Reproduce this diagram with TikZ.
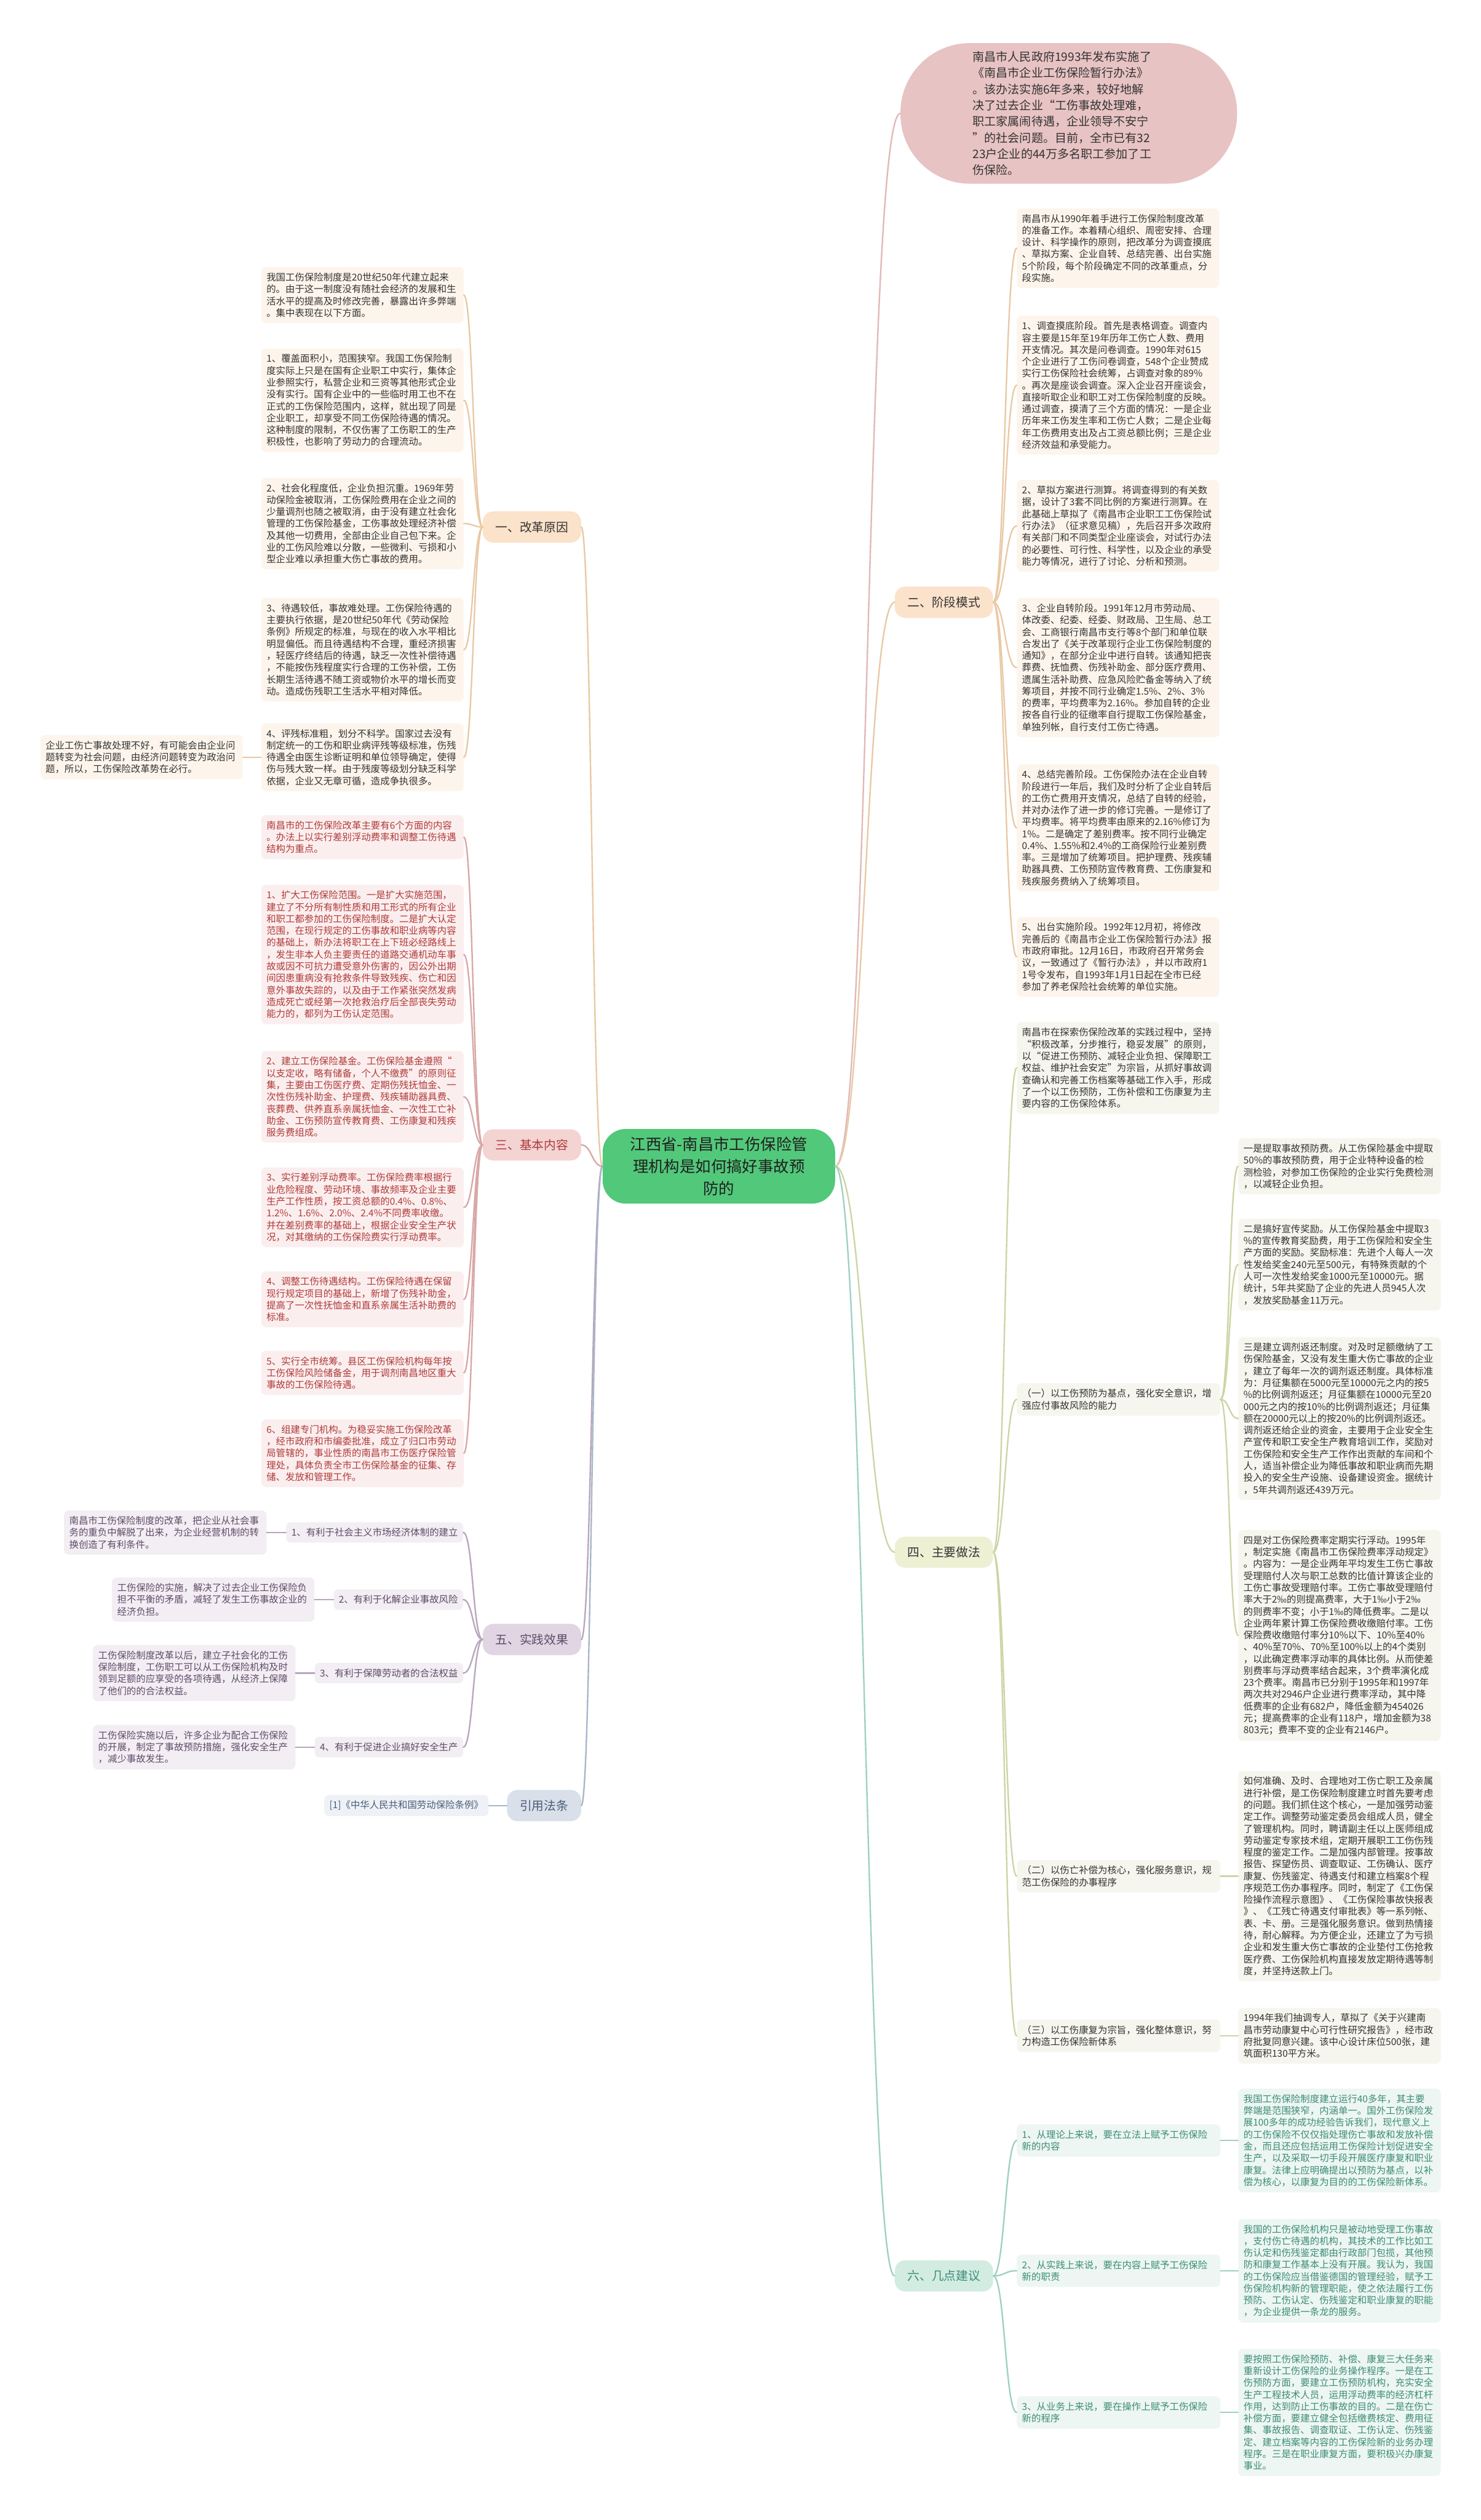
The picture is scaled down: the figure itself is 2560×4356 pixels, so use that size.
\documentclass[tikz,border=0pt]{standalone}
\usepackage{fontspec}
\setmainfont{Noto Sans CJK SC}
\newcommand\boxfont{\fontsize{16.4pt}{20.5pt}\selectfont}
\newcommand\labfont{\fontsize{21pt}{26pt}\selectfont}
\newcommand\cenfont{\fontsize{27pt}{38pt}\selectfont}
\newcommand\elfont{\fontsize{20.3pt}{28pt}\selectfont}
\definecolor{cgreen}{HTML}{52C87A}
\definecolor{epink}{HTML}{E8C3C3}
\definecolor{lnE}{HTML}{E3B8B8}
\definecolor{labA}{HTML}{FBE2CA}
\definecolor{boxA}{HTML}{FDF5EC}
\definecolor{lnA}{HTML}{E9C9A4}
\definecolor{labC}{HTML}{F4D3D3}
\definecolor{boxC}{HTML}{FBEEEE}
\definecolor{txtC}{HTML}{B03A3A}
\definecolor{lnC}{HTML}{D9A7A7}
\definecolor{labE}{HTML}{E1D5E3}
\definecolor{boxE}{HTML}{F2EEF3}
\definecolor{txtE}{HTML}{5F4B68}
\definecolor{lnP}{HTML}{B8A6BE}
\definecolor{labG}{HTML}{D9E0EA}
\definecolor{boxG}{HTML}{EEF2F6}
\definecolor{txtG}{HTML}{4A5C78}
\definecolor{lnG}{HTML}{A8B6C8}
\definecolor{labD}{HTML}{EEF0D4}
\definecolor{boxD}{HTML}{F6F6EE}
\definecolor{lnD}{HTML}{CCD5A5}
\definecolor{labF}{HTML}{D2ECE2}
\definecolor{boxF}{HTML}{EDF6F2}
\definecolor{txtF}{HTML}{3C8C77}
\definecolor{lnF}{HTML}{9FD0C1}
\definecolor{txtK}{HTML}{333333}
\begin{document}
\begin{tikzpicture}[x=1pt,y=-1pt,
  box/.style={rounded corners=8pt, align=left, text width=332pt, inner xsep=9pt, inner ysep=10pt, font=\boxfont},
  lbox/.style={rounded corners=8pt, align=left, inner xsep=9pt, inner ysep=10pt, font=\boxfont},
  lab/.style={rounded corners=18pt, font=\labfont, inner xsep=22pt, minimum height=54pt},
  ln/.style={line width=2.5pt, line cap=round}]
\useasboundingbox (0,0) rectangle (2560,4356);
\fill[white] (0,0) rectangle (2560,4356);

% centre and top
\node[fill=cgreen, rounded corners=40pt, text width=312pt, align=center, inner xsep=45pt, inner ysep=14pt, font=\cenfont, text=black!88] (C) at (1243,2016) {江西省-南昌市工伤保险管\\理机构是如何搞好事故预\\防的};
\node[fill=epink, rounded corners=120pt, text width=332pt, align=left, inner xsep=125pt, inner ysep=14pt, font=\elfont, text=txtK] (E) at (1848,196) {南昌市人民政府1993年发布实施了\\《南昌市企业工伤保险暂行办法》\\。该办法实施6年多来，较好地解\\决了过去企业“工伤事故处理难，\\职工家属闹待遇，企业领导不安宁\\”的社会问题。目前，全市已有32\\23户企业的44万多名职工参加了工\\伤保险。};

% branch labels
\node[lab, fill=labA, text=txtK, anchor=east] (ka) at (1005,911) {一、改革原因};
\node[lab, fill=labC, text=txtC, anchor=east] (kc) at (1005,1979) {三、基本内容};
\node[lab, fill=labE, text=txtE, anchor=east] (ke) at (1005,2834) {五、实践效果};
\node[lab, fill=labG, text=txtG, anchor=east] (kg) at (1005,3121) {引用法条};
\node[lab, fill=labA, text=txtK, anchor=west] (kb) at (1547,1041) {二、阶段模式};
\node[lab, fill=labD, text=txtK, anchor=west] (kd) at (1547,2683) {四、主要做法};
\node[lab, fill=labF, text=txtF, anchor=west] (kf) at (1547,3934) {六、几点建议};

% branch 一
\node[box, fill=boxA, text=txtK, anchor=east] (A0) at (802,510) {我国工伤保险制度是20世纪50年代建立起来\\的。由于这一制度没有随社会经济的发展和生\\活水平的提高及时修改完善，暴露出许多弊端\\。集中表现在以下方面。};
\node[box, fill=boxA, text=txtK, anchor=east] (A1) at (802,692) {1、覆盖面积小，范围狭窄。我国工伤保险制\\度实际上只是在国有企业职工中实行，集体企\\业参照实行，私营企业和三资等其他形式企业\\没有实行。国有企业中的一些临时用工也不在\\正式的工伤保险范围内，这样，就出现了同是\\企业职工，却享受不同工伤保险待遇的情况。\\这种制度的限制，不仅伤害了工伤职工的生产\\积极性，也影响了劳动力的合理流动。};
\node[box, fill=boxA, text=txtK, anchor=east] (A2) at (802,905) {2、社会化程度低，企业负担沉重。1969年劳\\动保险金被取消，工伤保险费用在企业之间的\\少量调剂也随之被取消，由于没有建立社会化\\管理的工伤保险基金，工伤事故处理经济补偿\\及其他一切费用，全部由企业自己包下来。企\\业的工伤风险难以分散，一些微利、亏损和小\\型企业难以承担重大伤亡事故的费用。};
\node[box, fill=boxA, text=txtK, anchor=east] (A3) at (802,1123) {3、待遇较低，事故难处理。工伤保险待遇的\\主要执行依据，是20世纪50年代《劳动保险\\条例》所规定的标准，与现在的收入水平相比\\明显偏低。而且待遇结构不合理，重经济损害\\，轻医疗终结后的待遇，缺乏一次性补偿待遇\\，不能按伤残程度实行合理的工伤补偿，工伤\\长期生活待遇不随工资或物价水平的增长而变\\动。造成伤残职工生活水平相对降低。};
\node[box, fill=boxA, text=txtK, anchor=east] (A4) at (802,1309) {4、评残标准粗，划分不科学。国家过去没有\\制定统一的工伤和职业病评残等级标准，伤残\\待遇全由医生诊断证明和单位领导确定，使得\\伤与残大致一样。由于残废等级划分缺乏科学\\依据，企业又无章可循，造成争执很多。};
\node[box, fill=boxA, text=txtK, anchor=east] (A5) at (420,1309) {企业工伤亡事故处理不好，有可能会由企业问\\题转变为社会问题，由经济问题转变为政治问\\题，所以，工伤保险改革势在必行。};

% branch 三
\node[box, fill=boxC, text=txtC, anchor=east] (C0) at (802,1447) {南昌市的工伤保险改革主要有6个方面的内容\\。办法上以实行差别浮动费率和调整工伤待遇\\结构为重点。};
\node[box, fill=boxC, text=txtC, anchor=east] (C1) at (802,1650) {1、扩大工伤保险范围。一是扩大实施范围，\\建立了不分所有制性质和用工形式的所有企业\\和职工都参加的工伤保险制度。二是扩大认定\\范围，在现行规定的工伤事故和职业病等内容\\的基础上，新办法将职工在上下班必经路线上\\，发生非本人负主要责任的道路交通机动车事\\故或因不可抗力遭受意外伤害的，因公外出期\\间因患重病没有抢救条件导致残疾、伤亡和因\\意外事故失踪的，以及由于工作紧张突然发病\\造成死亡或经第一次抢救治疗后全部丧失劳动\\能力的，都列为工伤认定范围。};
\node[box, fill=boxC, text=txtC, anchor=east] (C2) at (802,1896) {2、建立工伤保险基金。工伤保险基金遵照“\\以支定收，略有储备，个人不缴费”的原则征\\集，主要由工伤医疗费、定期伤残抚恤金、一\\次性伤残补助金、护理费、残疾辅助器具费、\\丧葬费、供养直系亲属抚恤金、一次性工亡补\\助金、工伤预防宣传教育费、工伤康复和残疾\\服务费组成。};
\node[box, fill=boxC, text=txtC, anchor=east] (C3) at (802,2087) {3、实行差别浮动费率。工伤保险费率根据行\\业危险程度、劳动环境、事故频率及企业主要\\生产工作性质，按工资总额的0.4\%、0.8\%、\\1.2\%、1.6\%、2.0\%、2.4\%不同费率收缴。\\并在差别费率的基础上，根据企业安全生产状\\况，对其缴纳的工伤保险费实行浮动费率。};
\node[box, fill=boxC, text=txtC, anchor=east] (C4) at (802,2246) {4、调整工伤待遇结构。工伤保险待遇在保留\\现行规定项目的基础上，新增了伤残补助金，\\提高了一次性抚恤金和直系亲属生活补助费的\\标准。};
\node[box, fill=boxC, text=txtC, anchor=east] (C5) at (802,2373) {5、实行全市统筹。县区工伤保险机构每年按\\工伤保险风险储备金，用于调剂南昌地区重大\\事故的工伤保险待遇。};
\node[box, fill=boxC, text=txtC, anchor=east] (C6) at (802,2512) {6、组建专门机构。为稳妥实施工伤保险改革\\，经市政府和市编委批准，成立了归口市劳动\\局管辖的，事业性质的南昌市工伤医疗保险管\\理处，具体负责全市工伤保险基金的征集、存\\储、发放和管理工作。};

% branch 五
\node[lbox, fill=boxE, text=txtE, anchor=east] (E1) at (801,2649) {1、有利于社会主义市场经济体制的建立};
\node[lbox, fill=boxE, text=txtE, anchor=east] (E2) at (801,2765) {2、有利于化解企业事故风险};
\node[lbox, fill=boxE, text=txtE, anchor=east] (E3) at (801,2892) {3、有利于保障劳动者的合法权益};
\node[lbox, fill=boxE, text=txtE, anchor=east] (E4) at (801,3020) {4、有利于促进企业搞好安全生产};
\node[box, fill=boxE, text=txtE, anchor=east] (E1c) at (461,2649) {南昌市工伤保险制度的改革，把企业从社会事\\务的重负中解脱了出来，为企业经营机制的转\\换创造了有利条件。};
\node[box, fill=boxE, text=txtE, anchor=east] (E2c) at (544,2765) {工伤保险的实施，解决了过去企业工伤保险负\\担不平衡的矛盾，减轻了发生工伤事故企业的\\经济负担。};
\node[box, fill=boxE, text=txtE, anchor=east] (E3c) at (511,2892) {工伤保险制度改革以后，建立子社会化的工伤\\保险制度，工伤职工可以从工伤保险机构及时\\领到足额的应享受的各项待遇，从经济上保障\\了他们的的合法权益。};
\node[box, fill=boxE, text=txtE, anchor=east] (E4c) at (511,3020) {工伤保险实施以后，许多企业为配合工伤保险\\的开展，制定了事故预防措施，强化安全生产\\，减少事故发生。};

% 引用法条
\node[lbox, fill=boxG, text=txtG, anchor=east] (G1) at (845,3121) {[1]《中华人民共和国劳动保险条例》};

% branch 二
\node[box, fill=boxA, text=txtK, anchor=west] (B0) at (1758,429) {南昌市从1990年着手进行工伤保险制度改革\\的准备工作。本着精心组织、周密安排、合理\\设计、科学操作的原则，把改革分为调查摸底\\、草拟方案、企业自转、总结完善、出台实施\\5个阶段，每个阶段确定不同的改革重点，分\\段实施。};
\node[box, fill=boxA, text=txtK, anchor=west] (B1) at (1758,666) {1、调查摸底阶段。首先是表格调查。调查内\\容主要是15年至19年历年工伤亡人数、费用\\开支情况。其次是问卷调查。1990年对615\\个企业进行了工伤问卷调查，548个企业赞成\\实行工伤保险社会统筹，占调查对象的89\%\\。再次是座谈会调查。深入企业召开座谈会，\\直接听取企业和职工对工伤保险制度的反映。\\通过调查，摸清了三个方面的情况：一是企业\\历年来工伤发生率和工伤亡人数；二是企业每\\年工伤费用支出及占工资总额比例；三是企业\\经济效益和承受能力。};
\node[box, fill=boxA, text=txtK, anchor=west] (B2) at (1758,909) {2、草拟方案进行测算。将调查得到的有关数\\据，设计了3套不同比例的方案进行测算。在\\此基础上草拟了《南昌市企业职工工伤保险试\\行办法》（征求意见稿），先后召开多次政府\\有关部门和不同类型企业座谈会，对试行办法\\的必要性、可行性、科学性，以及企业的承受\\能力等情况，进行了讨论、分析和预测。};
\node[box, fill=boxA, text=txtK, anchor=west] (B3) at (1758,1154) {3、企业自转阶段。1991年12月市劳动局、\\体改委、纪委、经委、财政局、卫生局、总工\\会、工商银行南昌市支行等8个部门和单位联\\合发出了《关于改革现行企业工伤保险制度的\\通知》，在部分企业中进行自转。该通知把丧\\葬费、抚恤费、伤残补助金、部分医疗费用、\\遗属生活补助费、应急风险贮备金等纳入了统\\筹项目，并按不同行业确定1.5\%、2\%、3\%\\的费率，平均费率为2.16\%。参加自转的企业\\按各自行业的征缴率自行提取工伤保险基金，\\单独列帐，自行支付工伤亡待遇。};
\node[box, fill=boxA, text=txtK, anchor=west] (B4) at (1758,1431) {4、总结完善阶段。工伤保险办法在企业自转\\阶段进行一年后，我们及时分析了企业自转后\\的工伤亡费用开支情况，总结了自转的经验，\\并对办法作了进一步的修订完善。一是修订了\\平均费率。将平均费率由原来的2.16\%修订为\\1\%。二是确定了差别费率。按不同行业确定\\0.4\%、1.55\%和2.4\%的工商保险行业差别费\\率。三是增加了统筹项目。把护理费、残疾辅\\助器具费、工伤预防宣传教育费、工伤康复和\\残疾服务费纳入了统筹项目。};
\node[box, fill=boxA, text=txtK, anchor=west] (B5) at (1758,1654) {5、出台实施阶段。1992年12月初，将修改\\完善后的《南昌市企业工伤保险暂行办法》报\\市政府审批。12月16日，市政府召开常务会\\议，一致通过了《暂行办法》，并以市政府1\\1号令发布，自1993年1月1日起在全市已经\\参加了养老保险社会统筹的单位实施。};

% branch 四
\node[box, fill=boxD, text=txtK, anchor=west] (D0) at (1758,1846) {南昌市在探索伤保险改革的实践过程中，坚持\\“积极改革，分步推行，稳妥发展”的原则，\\以“促进工伤预防、减轻企业负担、保障职工\\权益、维护社会安定”为宗旨，从抓好事故调\\查确认和完善工伤档案等基础工作入手，形成\\了一个以工伤预防，工伤补偿和工伤康复为主\\要内容的工伤保险体系。};
\node[box, fill=boxD, text=txtK, anchor=west, text width=334pt] (D1) at (1758,2419) {（一）以工伤预防为基点，强化安全意识，增\\强应付事故风险的能力};
\node[box, fill=boxD, text=txtK, anchor=west, text width=334pt] (D2) at (1758,3243) {（二）以伤亡补偿为核心，强化服务意识，规\\范工伤保险的办事程序};
\node[box, fill=boxD, text=txtK, anchor=west, text width=334pt] (D3) at (1758,3519) {（三）以工伤康复为宗旨，强化整体意识，努\\力构造工伤保险新体系};
\node[box, fill=boxD, text=txtK, anchor=west] (H1) at (2141,2016) {一是提取事故预防费。从工伤保险基金中提取\\50\%的事故预防费，用于企业特种设备的检\\测检验，对参加工伤保险的企业实行免费检测\\，以减轻企业负担。};
\node[box, fill=boxD, text=txtK, anchor=west] (H2) at (2141,2186) {二是搞好宣传奖励。从工伤保险基金中提取3\\\%的宣传教育奖励费，用于工伤保险和安全生\\产方面的奖励。奖励标准：先进个人每人一次\\性发给奖金240元至500元，有特殊贡献的个\\人可一次性发给奖金1000元至10000元。据\\统计，5年共奖励了企业的先进人员945人次\\，发放奖励基金11万元。};
\node[box, fill=boxD, text=txtK, anchor=west] (H3) at (2141,2452) {三是建立调剂返还制度。对及时足额缴纳了工\\伤保险基金，又没有发生重大伤亡事故的企业\\，建立了每年一次的调剂返还制度。具体标准\\为：月征集额在5000元至10000元之内的按5\\\%的比例调剂返还；月征集额在10000元至20\\000元之内的按10\%的比例调剂返还；月征集\\额在20000元以上的按20\%的比例调剂返还。\\调剂返还给企业的资金，主要用于企业安全生\\产宣传和职工安全生产教育培训工作，奖励对\\工伤保险和安全生产工作作出贡献的车间和个\\人，适当补偿企业为降低事故和职业病而先期\\投入的安全生产设施、设备建设资金。据统计\\，5年共调剂返还439万元。};
\node[box, fill=boxD, text=txtK, anchor=west] (H4) at (2141,2827) {四是对工伤保险费率定期实行浮动。1995年\\，制定实施《南昌市工伤保险费率浮动规定》\\。内容为：一是企业两年平均发生工伤亡事故\\受理赔付人次与职工总数的比值计算该企业的\\工伤亡事故受理赔付率。工伤亡事故受理赔付\\率大于2‰的则提高费率，大于1‰小于2‰\\的则费率不变；小于1‰的降低费率。二是以\\企业两年累计算工伤保险费收缴赔付率。工伤\\保险费收缴赔付率分10\%以下、10\%至40\%\\、40\%至70\%、70\%至100\%以上的4个类别\\，以此确定费率浮动率的具体比例。从而使差\\别费率与浮动费率结合起来，3个费率演化成\\23个费率。南昌市已分别于1995年和1997年\\两次共对2946户企业进行费率浮动，其中降\\低费率的企业有682户，降低金额为454026\\元；提高费率的企业有118户，增加金额为38\\803元；费率不变的企业有2146户。};
\node[box, fill=boxD, text=txtK, anchor=west] (H5) at (2141,3243) {如何准确、及时、合理地对工伤亡职工及亲属\\进行补偿，是工伤保险制度建立时首先要考虑\\的问题。我们抓住这个核心，一是加强劳动鉴\\定工作。调整劳动鉴定委员会组成人员，健全\\了管理机构。同时，聘请副主任以上医师组成\\劳动鉴定专家技术组，定期开展职工工伤伤残\\程度的鉴定工作。二是加强内部管理。按事故\\报告、探望伤员、调查取证、工伤确认、医疗\\康复、伤残鉴定、待遇支付和建立档案8个程\\序规范工伤办事程序。同时，制定了《工伤保\\险操作流程示意图》、《工伤保险事故快报表\\》、《工残亡待遇支付审批表》等一系列帐、\\表、卡、册。三是强化服务意识。做到热情接\\待，耐心解释。为方便企业，还建立了为亏损\\企业和发生重大伤亡事故的企业垫付工伤抢救\\医疗费、工伤保险机构直接发放定期待遇等制\\度，并坚持送款上门。};
\node[box, fill=boxD, text=txtK, anchor=west] (H6) at (2141,3519) {1994年我们抽调专人，草拟了《关于兴建南\\昌市劳动康复中心可行性研究报告》，经市政\\府批复同意兴建。该中心设计床位500张，建\\筑面积130平方米。};

% branch 六
\node[box, fill=boxF, text=txtF, anchor=west, text width=334pt] (F1) at (1758,3700) {1、从理论上来说，要在立法上赋予工伤保险\\新的内容};
\node[box, fill=boxF, text=txtF, anchor=west, text width=334pt] (F2) at (1758,3925) {2、从实践上来说，要在内容上赋予工伤保险\\新的职责};
\node[box, fill=boxF, text=txtF, anchor=west, text width=334pt] (F3) at (1758,4170) {3、从业务上来说，要在操作上赋予工伤保险\\新的程序};
\node[box, fill=boxF, text=txtF, anchor=west] (F1c) at (2141,3700) {我国工伤保险制度建立运行40多年，其主要\\弊端是范围狭窄，内涵单一。国外工伤保险发\\展100多年的成功经验告诉我们，现代意义上\\的工伤保险不仅仅指处理伤亡事故和发放补偿\\金，而且还应包括运用工伤保险计划促进安全\\生产，以及采取一切手段开展医疗康复和职业\\康复。法律上应明确提出以预防为基点，以补\\偿为核心，以康复为目的的工伤保险新体系。};
\node[box, fill=boxF, text=txtF, anchor=west] (F2c) at (2141,3925) {我国的工伤保险机构只是被动地受理工伤事故\\，支付伤亡待遇的机构，其技术的工作比如工\\伤认定和伤残鉴定都由行政部门包揽，其他预\\防和康复工作基本上没有开展。我认为，我国\\的工伤保险应当借鉴德国的管理经验，赋予工\\伤保险机构新的管理职能，使之依法履行工伤\\预防、工伤认定、伤残鉴定和职业康复的职能\\，为企业提供一条龙的服务。};
\node[box, fill=boxF, text=txtF, anchor=west] (F3c) at (2141,4170) {要按照工伤保险预防、补偿、康复三大任务来\\重新设计工伤保险的业务操作程序。一是在工\\伤预防方面，要建立工伤预防机构，充实安全\\生产工程技术人员，运用浮动费率的经济杠杆\\作用，达到防止工伤事故的目的。二是在伤亡\\补偿方面，要建立健全包括缴费核定、费用征\\集、事故报告、调查取证、工伤认定、伤残鉴\\定、建立档案等内容的工伤保险新的业务办理\\程序。三是在职业康复方面，要积极兴办康复\\事业。};

% connectors: centre to branches
\draw[ln, lnE] (C.east) .. controls +(60,0) and +(-60,0) .. (E.west);
\draw[ln, lnA] (C.east) .. controls +(50,0) and +(-50,0) .. (kb.west);
\draw[ln, lnD] (C.east) .. controls +(50,0) and +(-50,0) .. (kd.west);
\draw[ln, lnF] (C.east) .. controls +(50,0) and +(-50,0) .. (kf.west);
\draw[ln, lnA] (C.west) .. controls +(-18,0) and +(18,0) .. (ka.east);
\draw[ln, lnC] (C.west) .. controls +(-18,0) and +(18,0) .. (kc.east);
\draw[ln, lnP] (C.west) .. controls +(-18,0) and +(18,0) .. (ke.east);
\draw[ln, lnG] (C.west) .. controls +(-18,0) and +(18,0) .. (kg.east);

% branch to children
\foreach \n in {A0,A1,A2,A3,A4} \draw[ln, lnA] (ka.west) .. controls +(-16,0) and +(16,0) .. (\n.east);
\draw[ln, lnA] (A4.west) -- (A5.east);
\foreach \n in {C0,C1,C2,C3,C4,C5,C6} \draw[ln, lnC] (kc.west) .. controls +(-16,0) and +(16,0) .. (\n.east);
\foreach \n in {E1,E2,E3,E4} \draw[ln, lnP] (ke.west) .. controls +(-17,0) and +(17,0) .. (\n.east);
\draw[ln, lnP] (E1.west) -- (E1c.east);
\draw[ln, lnP] (E2.west) -- (E2c.east);
\draw[ln, lnP] (E3.west) -- (E3c.east);
\draw[ln, lnP] (E4.west) -- (E4c.east);
\draw[ln, lnG] (kg.west) -- (G1.east);
\foreach \n in {B0,B1,B2,B3,B4,B5} \draw[ln, lnA] (kb.east) .. controls +(20,0) and +(-20,0) .. (\n.west);
\foreach \n in {D0,D1,D2,D3} \draw[ln, lnD] (kd.east) .. controls +(20,0) and +(-20,0) .. (\n.west);
\foreach \n in {H1,H2,H3,H4} \draw[ln, lnD] (D1.east) .. controls +(16,0) and +(-16,0) .. (\n.west);
\draw[ln, lnD] (D2.east) -- (H5.west);
\draw[ln, lnD] (D3.east) -- (H6.west);
\foreach \n in {F1,F2,F3} \draw[ln, lnF] (kf.east) .. controls +(20,0) and +(-20,0) .. (\n.west);
\draw[ln, lnF] (F1.east) -- (F1c.west);
\draw[ln, lnF] (F2.east) -- (F2c.west);
\draw[ln, lnF] (F3.east) -- (F3c.west);
\end{tikzpicture}
\end{document}
